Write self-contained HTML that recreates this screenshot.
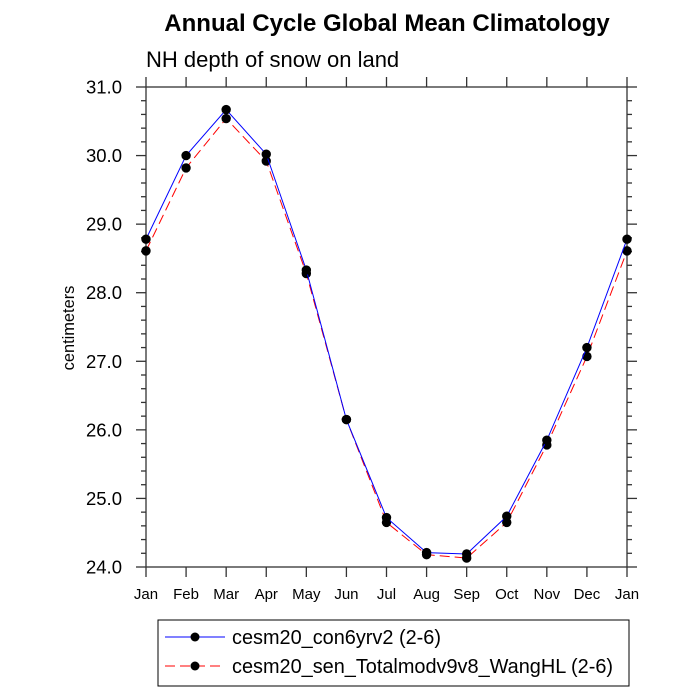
<!DOCTYPE html>
<html><head><meta charset="utf-8"><style>body{margin:0;background:#fff}svg{display:block;font-family:"Liberation Sans",sans-serif}</style></head>
<body>
<svg id="chart" width="700" height="700">
<text x="387" y="31" text-anchor="middle" font-size="24" font-weight="bold">Annual Cycle Global Mean Climatology</text>
<text x="146" y="67" font-size="22">NH depth of snow on land</text>
<text transform="translate(74,328) rotate(-90)" text-anchor="middle" font-size="16.4">centimeters</text>
<g id="axes"></g>
<g id="series"></g>
<g>
<rect x="158" y="620" width="471" height="66" fill="none" stroke="#000" stroke-width="1"/>
<line x1="165" y1="637" x2="225" y2="637" stroke="#0000ff" stroke-width="1"/>
<circle cx="195" cy="637" r="4.5" fill="#000"/>
<text x="232" y="644" font-size="19.9">cesm20_con6yrv2 (2-6)</text>
<line x1="165" y1="666" x2="225" y2="666" stroke="#ff0000" stroke-width="1" stroke-dasharray="10,5"/>
<circle cx="195" cy="666" r="4.5" fill="#000"/>
<text x="232" y="673" font-size="19.9">cesm20_sen_Totalmodv9v8_WangHL (2-6)</text>
</g>
</svg>
<script>
const months = ["Jan","Feb","Mar","Apr","May","Jun","Jul","Aug","Sep","Oct","Nov","Dec","Jan"];
const controlValues = [28.78,30.0,30.67,30.02,28.33,26.15,24.72,24.21,24.19,24.74,25.85,27.2,28.78];
const sensValues = [28.61,29.82,30.54,29.92,28.28,26.15,24.65,24.18,24.13,24.65,25.78,27.07,28.61];
const yTicks = [24,25,26,27,28,29,30,31];
const NS="http://www.w3.org/2000/svg";
const L=146,R=627,T=87,B=567,yMin=24,yMax=31;
const xs=i=>L+(R-L)*i/(months.length-1);
const ys=v=>B-(B-T)*(v-yMin)/(yMax-yMin);
function mk(tag,attrs,parent){const e=document.createElementNS(NS,tag);for(const k in attrs)e.setAttribute(k,attrs[k]);parent.appendChild(e);return e;}
const ax=document.getElementById('axes');
const fr=mk('rect',{x:L,y:T,width:R-L,height:B-T,fill:'none',stroke:'#333','stroke-width':1.3},ax);


months.forEach((m,i)=>{
 const x=xs(i);
 mk('line',{x1:x,y1:B,x2:x,y2:B+10,stroke:'#333','stroke-width':1.3},ax);
 mk('line',{x1:x,y1:T,x2:x,y2:T-10,stroke:'#333','stroke-width':1.3},ax);
 const t=mk('text',{x:x,y:B+32,'text-anchor':'middle','font-size':15},ax);
 t.textContent=m;
 
 
});
for(let v=yMin;v<=yMax+1e-9;v+=0.2){
 const y=ys(v);const major=Math.abs(v-Math.round(v))<1e-6;const len=major?10:5;
 mk('line',{x1:L,y1:y,x2:L-len,y2:y,stroke:'#333','stroke-width':1.3},ax);
 mk('line',{x1:R,y1:y,x2:R+len,y2:y,stroke:'#333','stroke-width':1.3},ax);
}
yTicks.forEach(v=>{
 const t=mk('text',{x:L-24,y:ys(v)+6.5,'text-anchor':'end','font-size':18.5},ax);
 t.textContent=v.toFixed(1);
 
 
});
const sg=document.getElementById('series');
function draw(vals,color,dash,name){
 const pl=mk('polyline',{points:vals.map((v,i)=>xs(i)+','+ys(v)).join(' '),fill:'none',stroke:color,'stroke-width':1,'stroke-dasharray':dash},sg);
 
 
 vals.forEach((v,i)=>{
  const c=mk('circle',{cx:xs(i),cy:ys(v),r:4.7,fill:'#000'},sg);
  
  
 });
}
draw(sensValues,'#ff0000','10,5','sensitivity');
draw(controlValues,'#0000ff','none','control');
</script>
</body></html>
